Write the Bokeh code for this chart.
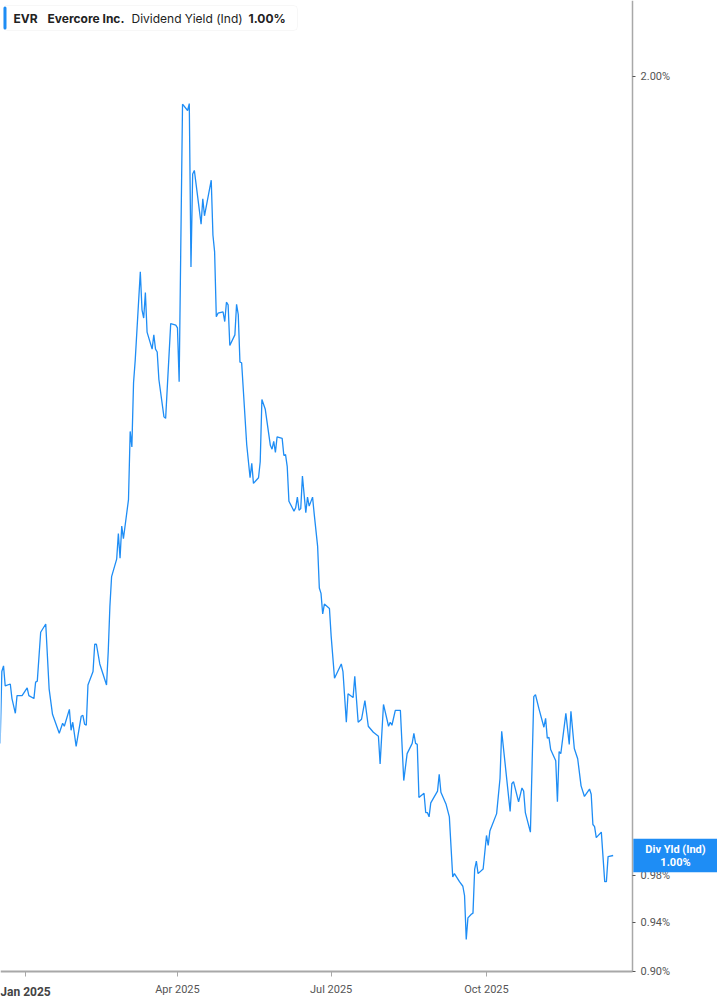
import pandas as pd
from bokeh.plotting import figure
from bokeh.models import (ColumnDataSource, Range1d, FixedTicker, PrintfTickFormatter,
                          DatetimeTickFormatter, Label, BoxAnnotation)
from bokeh.embed import file_html
from bokeh.resources import INLINE

# dividend yield (%)
dates = [
    "2024-12-17", "2024-12-18", "2024-12-19", "2024-12-20", "2024-12-23", "2024-12-24",
    "2024-12-26", "2024-12-27", "2024-12-30", "2025-01-02", "2025-01-03", "2025-01-06",
    "2025-01-07", "2025-01-08", "2025-01-10", "2025-01-13", "2025-01-15", "2025-01-17",
    "2025-01-21", "2025-01-23", "2025-01-24", "2025-01-27", "2025-01-28", "2025-01-29",
    "2025-01-31", "2025-02-03", "2025-02-04", "2025-02-05", "2025-02-06", "2025-02-07",
    "2025-02-10", "2025-02-11", "2025-02-12", "2025-02-14", "2025-02-18", "2025-02-19",
    "2025-02-20", "2025-02-21", "2025-02-24", "2025-02-25", "2025-02-26", "2025-02-27",
    "2025-02-28", "2025-03-03", "2025-03-04", "2025-03-05", "2025-03-06", "2025-03-07",
    "2025-03-10", "2025-03-11", "2025-03-12", "2025-03-13", "2025-03-14", "2025-03-17",
    "2025-03-18", "2025-03-19", "2025-03-20", "2025-03-21", "2025-03-24", "2025-03-25",
    "2025-03-28", "2025-03-31", "2025-04-01", "2025-04-02", "2025-04-04", "2025-04-07",
    "2025-04-08", "2025-04-09", "2025-04-10", "2025-04-11", "2025-04-15", "2025-04-16",
    "2025-04-17", "2025-04-21", "2025-04-22", "2025-04-23", "2025-04-24", "2025-04-25",
    "2025-04-28", "2025-04-29", "2025-04-30", "2025-05-01", "2025-05-02", "2025-05-05",
    "2025-05-06", "2025-05-07", "2025-05-08", "2025-05-09", "2025-05-12", "2025-05-14",
    "2025-05-15", "2025-05-16", "2025-05-19", "2025-05-20", "2025-05-21", "2025-05-23",
    "2025-05-26", "2025-05-27", "2025-05-28", "2025-05-29", "2025-05-30", "2025-06-02",
    "2025-06-03", "2025-06-04", "2025-06-05", "2025-06-06", "2025-06-09", "2025-06-10",
    "2025-06-11", "2025-06-12", "2025-06-13", "2025-06-14", "2025-06-16", "2025-06-17",
    "2025-06-18", "2025-06-20", "2025-06-21", "2025-06-23", "2025-06-24", "2025-06-25",
    "2025-06-26", "2025-06-27", "2025-06-30", "2025-07-01", "2025-07-03", "2025-07-07",
    "2025-07-08", "2025-07-10", "2025-07-11", "2025-07-14", "2025-07-15", "2025-07-17",
    "2025-07-19", "2025-07-21", "2025-07-23", "2025-07-26", "2025-07-29", "2025-07-30",
    "2025-08-01", "2025-08-04", "2025-08-05", "2025-08-06", "2025-08-08", "2025-08-11",
    "2025-08-13", "2025-08-15", "2025-08-18", "2025-08-19", "2025-08-20", "2025-08-21",
    "2025-08-22", "2025-08-25", "2025-08-26", "2025-08-27", "2025-08-28", "2025-08-29",
    "2025-09-02", "2025-09-03", "2025-09-04", "2025-09-07", "2025-09-09", "2025-09-11",
    "2025-09-12", "2025-09-15", "2025-09-17", "2025-09-18", "2025-09-19", "2025-09-20",
    "2025-09-22", "2025-09-23", "2025-09-24", "2025-09-25", "2025-09-26", "2025-09-29",
    "2025-10-01", "2025-10-02", "2025-10-03", "2025-10-07", "2025-10-09", "2025-10-10",
    "2025-10-15", "2025-10-16", "2025-10-17", "2025-10-20", "2025-10-22", "2025-10-23",
    "2025-10-24", "2025-10-27", "2025-10-29", "2025-10-30", "2025-11-01", "2025-11-04",
    "2025-11-05", "2025-11-06", "2025-11-07", "2025-11-08", "2025-11-11", "2025-11-12",
    "2025-11-13", "2025-11-14", "2025-11-17", "2025-11-19", "2025-11-20", "2025-11-22",
    "2025-11-24", "2025-11-26", "2025-11-28", "2025-12-01", "2025-12-02", "2025-12-03",
    "2025-12-04", "2025-12-05", "2025-12-08", "2025-12-10", "2025-12-11", "2025-12-12",
    "2025-12-15",
]
yield_pct = [
    1.103, 1.176, 1.182, 1.161, 1.163, 1.148,
    1.133, 1.151, 1.151, 1.159, 1.151, 1.148,
    1.165, 1.166, 1.218, 1.227, 1.158, 1.132,
    1.113, 1.123, 1.120, 1.137, 1.116, 1.124,
    1.100, 1.130, 1.131, 1.122, 1.121, 1.162,
    1.176, 1.205, 1.205, 1.184, 1.162, 1.197,
    1.247, 1.280, 1.300, 1.330, 1.301, 1.339,
    1.324, 1.371, 1.457, 1.437, 1.522, 1.553,
    1.680, 1.624, 1.612, 1.649, 1.592, 1.568,
    1.588, 1.568, 1.564, 1.526, 1.476, 1.474,
    1.604, 1.602, 1.598, 1.523, 1.951, 1.940,
    1.952, 1.687, 1.833, 1.839, 1.753, 1.793,
    1.766, 1.823, 1.736, 1.710, 1.614, 1.619,
    1.621, 1.607, 1.635, 1.631, 1.573, 1.588,
    1.632, 1.617, 1.550, 1.549, 1.440, 1.398,
    1.416, 1.391, 1.398, 1.418, 1.499, 1.486,
    1.439, 1.434, 1.444, 1.430, 1.450, 1.448,
    1.426, 1.427, 1.412, 1.369, 1.357, 1.361,
    1.374, 1.358, 1.360, 1.400, 1.355, 1.374,
    1.363, 1.374, 1.353, 1.315, 1.267, 1.261,
    1.238, 1.249, 1.244, 1.214, 1.169, 1.184,
    1.176, 1.124, 1.153, 1.149, 1.171, 1.124,
    1.127, 1.146, 1.120, 1.114, 1.110, 1.083,
    1.142, 1.120, 1.124, 1.121, 1.136, 1.136,
    1.067, 1.093, 1.103, 1.113, 1.103, 1.102,
    1.051, 1.055, 1.037, 1.037, 1.033, 1.046,
    1.057, 1.073, 1.056, 1.045, 1.033, 0.979,
    0.982, 0.975, 0.971, 0.963, 0.926, 0.944,
    0.947, 0.948, 0.986, 0.993, 0.982, 0.986,
    1.016, 1.007, 1.020, 1.036, 1.069, 1.115,
    1.038, 1.064, 1.066, 1.047, 1.060, 1.057,
    1.037, 1.019, 1.150, 1.152, 1.138, 1.119,
    1.128, 1.108, 1.109, 1.097, 1.086, 1.047,
    1.095, 1.093, 1.133, 1.102, 1.135, 1.098,
    1.088, 1.062, 1.052, 1.059, 1.054, 1.026,
    1.024, 1.014, 1.019, 0.975, 0.975, 0.997,
    0.998,
]

symbol = "EVR"
company = "Evercore Inc."
metric = "Dividend Yield (Ind)"
last_text = "1.00%"
tag_text = "Div Yld (Ind)\n1.00%"
x_ticks = ["2025-01-01", "2025-04-01", "2025-07-01", "2025-10-01"]
y_ticks = [0.90, 0.94, 0.98, 2.00]

BLUE = "#1e8df5"
W, H = 717, 1005

# the axes sit inside the canvas at fixed spots, so labels and tag are not clipped
X_START, X_AXIS, X_END = "2024-12-17 05:00", "2025-12-26 12:00", "2026-02-14 19:00"
Y_BOTTOM, Y_AXIS, Y_TOP = 0.873, 0.90, 2.14


def ms(d):
    return pd.Timestamp(d).value / 1e6


src = ColumnDataSource(data=dict(date=pd.to_datetime(dates), value=yield_pct))

p = figure(width=W, height=H, x_axis_type="datetime", y_axis_type="log",
           x_range=Range1d(ms(X_START), ms(X_END)),
           y_range=Range1d(Y_BOTTOM, Y_TOP), y_axis_location="right",
           output_backend="svg", toolbar_location=None,
           min_border_left=0, min_border_top=0,
           min_border_right=0, min_border_bottom=0)
p.outline_line_color = None
p.xgrid.visible = False
p.ygrid.visible = False

p.line("date", "value", source=src, line_color=BLUE, line_width=1.3)

# bottom axis
xa = p.xaxis[0]
xa.fixed_location = Y_AXIS
xa.bounds = (ms(X_START), ms(X_AXIS))
xa.ticker = FixedTicker(ticks=[ms(d) for d in x_ticks])
xa.formatter = DatetimeTickFormatter(days="%b %Y", months="%b %Y", years="%b %Y")
xa.major_label_overrides = {ms(x_ticks[0]): ""}
xa.axis_line_color = "#a8a8a8"
xa.axis_line_width = 2
xa.major_tick_line_color = "#a8a8a8"
xa.major_tick_out = 5
xa.major_tick_in = 0
xa.minor_tick_line_color = None
xa.major_label_text_font = "Roboto"
xa.major_label_text_font_size = "11px"
xa.major_label_text_color = "#555555"
xa.major_label_standoff = 7

# right axis
ya = p.yaxis[0]
ya.fixed_location = ms(X_AXIS)
ya.bounds = (Y_AXIS, Y_TOP)
ya.ticker = FixedTicker(ticks=y_ticks, minor_ticks=[])
ya.formatter = PrintfTickFormatter(format="%.2f%%")
ya.axis_line_color = "#a8a8a8"
ya.axis_line_width = 1.5
ya.major_tick_line_color = "#555555"
ya.major_tick_out = 3
ya.major_tick_in = 0
ya.minor_tick_line_color = None
ya.major_label_text_font = "Roboto"
ya.major_label_text_font_size = "11px"
ya.major_label_text_color = "#555555"
ya.major_label_standoff = 5

p.add_layout(Label(x=ms(x_ticks[0]), y=14, y_units="screen", text="Jan 2025",
                   text_font="Roboto", text_font_size="12px", text_font_style="bold",
                   text_color="#444444", text_align="center", text_baseline="middle"))

# header box
p.add_layout(BoxAnnotation(left=3, right=297, top=H - 5, bottom=H - 30,
                           left_units="screen", right_units="screen",
                           top_units="screen", bottom_units="screen",
                           fill_color="white", fill_alpha=1,
                           line_color="#e4e4e4", line_width=1, border_radius=4))
p.add_layout(BoxAnnotation(left=3, right=6, top=H - 6, bottom=H - 29,
                           left_units="screen", right_units="screen",
                           top_units="screen", bottom_units="screen",
                           fill_color=BLUE, fill_alpha=1, line_alpha=0, border_radius=2))
for txt, xpos, style in [(symbol, 13, "bold"), (company, 47, "bold"),
                         (metric, 131, "normal"), (last_text, 248, "bold")]:
    p.add_layout(Label(x=xpos, y=H - 17.5, x_units="screen", y_units="screen",
                       text=txt, text_font="Inter", text_font_size="12px",
                       text_font_style=style, text_color="#222222",
                       text_baseline="middle"))

# last value tag on the right axis
p.add_layout(Label(x=675, y=yield_pct[-1], x_units="screen", text=tag_text,
                   text_font="Roboto", text_font_size="11px", text_font_style="bold",
                   text_color="white", text_align="center", text_baseline="middle",
                   text_line_height=1.05, background_fill_color=BLUE,
                   background_fill_alpha=1,
                   padding=dict(left=12, right=12, top=4, bottom=3)))

open("out.html", "w").write(file_html(p, INLINE))
